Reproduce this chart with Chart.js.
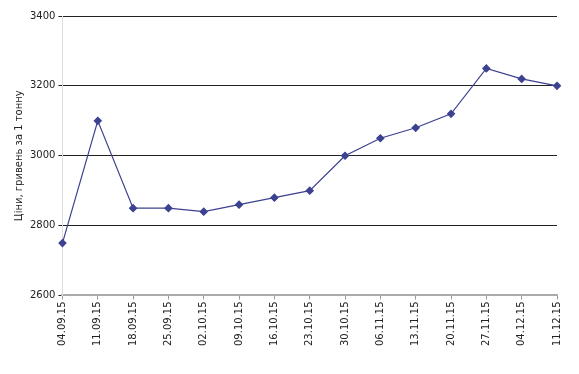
<!DOCTYPE html>
<html>
<head>
<meta charset="utf-8">
<script src="https://cdn.jsdelivr.net/npm/chart.js@4"></script>
<style>
  html, body { margin: 0; padding: 0; background: #fff; }
  #wrap { width: 579px; height: 374px; }
</style>
</head>
<body>
<div id="wrap"><canvas id="chart1" width="579" height="374"></canvas></div>
<script>
// дані з графіка
const dates = ['04.09.15', '11.09.15', '18.09.15', '25.09.15', '02.10.15', '09.10.15', '16.10.15', '23.10.15',
  '30.10.15', '06.11.15', '13.11.15', '20.11.15', '27.11.15', '04.12.15', '11.12.15'];
const prices = [2750, 3100, 2850, 2850, 2840, 2860, 2880, 2900, 3000, 3050, 3080, 3120, 3250, 3220, 3200];
const yTicks = [2600, 2800, 3000, 3200, 3400];

const ctx = document.getElementById('chart1').getContext('2d');
new Chart(ctx, {
  type: 'line',
  data: {
    labels: dates,
    datasets: [{
      data: prices,
      borderColor: '#3c4190',
      backgroundColor: '#3c4190',
      borderWidth: 1.2,
      pointStyle: 'rectRot',
      pointRadius: 3.5,
      pointHoverRadius: 3.5,
      tension: 0
    }]
  },
  options: {
    responsive: false,
    animation: false,
    layout: { padding: { left: 11, right: 22, top: 16, bottom: 26 } },
    plugins: { legend: { display: false }, tooltip: { enabled: false } },
    scales: {
      x: {
        offset: false,
        grid: { drawOnChartArea: false, drawTicks: true, tickLength: 4, color: '#999' },
        border: { color: '#aaa', width: 2 },
        ticks: {
          minRotation: 90, maxRotation: 90, autoSkip: false,
          color: '#222', font: { family: 'DejaVu Sans', size: 10 }, padding: 2
        }
      },
      y: {
        min: 2600, max: 3400,
        afterBuildTicks: axis => { axis.ticks = yTicks.map(v => ({ value: v })); },
        grid: { color: '#222', lineWidth: 1, tickLength: 4 },
        border: { color: '#ddd', width: 1 },
        ticks: {
          color: '#222', font: { family: 'DejaVu Sans', size: 10 }, padding: 3,
          callback: v => String(v)
        },
        title: {
          display: true, text: 'Ціни, гривень за 1 тонну',
          color: '#222', font: { family: 'DejaVu Sans', size: 10 }, padding: 2
        }
      }
    }
  }
});
</script>
</body>
</html>
